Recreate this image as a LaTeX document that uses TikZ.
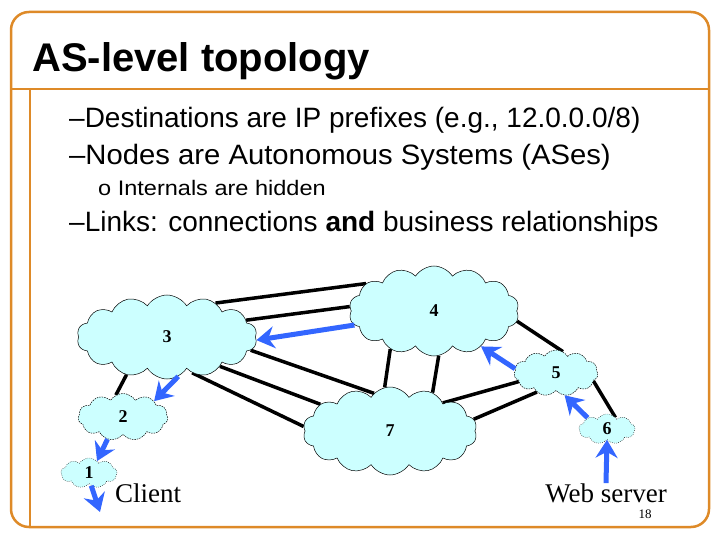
\documentclass[tikz,border=0pt]{standalone}
\usepackage{fontspec}
\setmainfont{Liberation Sans}
\newfontfamily\seriffont{Liberation Serif}
\usetikzlibrary{shapes.symbols,arrows.meta,backgrounds}
\definecolor{frameorange}{RGB}{222,138,40}
\definecolor{cloudfill}{RGB}{204,255,255}
\definecolor{relblue}{RGB}{51,102,255}
\begin{document}
\begin{tikzpicture}[x=1pt,y=-1pt,
  cloudnode/.style={cloud, cloud puffs=#1, cloud puff arc=115, draw=black, line width=0.5pt,
    fill=cloudfill, inner sep=0pt, font=\seriffont\bfseries\fontsize{18}{18}\selectfont},
  smallcloud/.style={cloudnode=#1, dash pattern=on 1.5pt off 1pt},
  dotcloud/.style={cloudnode=#1, dash pattern=on 0.6pt off 1.4pt},
  link/.style={line width=3.5pt, black},
  rel/.style={line width=5pt, relblue, -{Stealth[length=18pt,width=22pt,inset=6pt]}},
  bullet/.style={anchor=base west, inner sep=0pt, font=\fontsize{28}{28}\selectfont},
  serifbig/.style={inner sep=0pt, font=\seriffont\fontsize{27}{27}\selectfont},
  frame/.style={frameorange, line width=2.5pt}]
\useasboundingbox (0,0) rectangle (720,540);
% frame
\draw[frame, rounded corners=18pt] (11,12) rectangle (709,527);
\draw[frame] (11,89) -- (709,89);
\draw[frame] (30,89) -- (30,527);
% texts
\node[anchor=base west, inner sep=0pt, font=\bfseries\fontsize{40}{40}\selectfont] (title) at (32,72) {AS-level topology};
\node[bullet] (b1) at (69,128) {–Destinations are IP prefixes (e.g., 12.0.0.0/8)};
\node[bullet] (b2) at (69,165) {\scalebox{1.045}[1]{–Nodes are Autonomous Systems (ASes)}};
\node[anchor=base west, inner sep=0pt, font=\fontsize{21}{21}\selectfont] (sub) at (98,196) {\scalebox{1.12}[1]{o Internals are hidden}};
\node[bullet] (b3) at (69,231) {–Links: connections \textbf{and} business relationships};
% clouds
\node[cloudnode=14, minimum width=180pt, minimum height=84pt] (c3) at (167,337) {3};
\node[cloudnode=14, minimum width=170pt, minimum height=90pt] (c4) at (434,311) {4};
\node[cloudnode=14, minimum width=174pt, minimum height=88pt] (c7) at (390,431) {7};
\node[smallcloud=11, minimum width=84pt, minimum height=46pt] (c5) at (556,373) {5};
\node[smallcloud=11, minimum width=90pt, minimum height=47pt] (c2) at (123,417) {2};
\node[dotcloud=9, minimum width=56pt, minimum height=30pt] (c1) at (89,473) {1};
\node[dotcloud=9, minimum width=56pt, minimum height=30pt] (c6) at (607,429) {6};
% links
\begin{scope}[on background layer]
\draw[link] (c3.35) -- (c4.158);
\draw[link] (c3.12) -- (c4.177);
\draw[link] (c3.-9) -- (c7.113);
\draw[link] (c3.-29) -- (c7.159);
\draw[link] (c3.-55) -- (c7.177);
\draw[link] (c3.-137) -- (c2.108);
\draw[link] (c4.221) -- (c7.97);
\draw[link] (c4.276) -- (c7.42);
\draw[link] (c4.-7) -- (c5.72);
\draw[link] (c7.28) -- (c5.193);
\draw[link] (c7.8) -- (c5.225);
\draw[link] (c5.-12) -- (c6.54);
\end{scope}
% labels below
\node[serifbig, anchor=base west] (client) at (115,502) {Client};
\node[serifbig, anchor=base] (web) at (606,502) {Web server};
\node[inner sep=0pt, anchor=base, font=\seriffont\fontsize{13}{13}\selectfont] (pagenum) at (645,518) {18};
\coordinate (clienttip) at (100,512);
% relationships
\draw[rel] (c4.190) -- (c3.-2.5);
\draw[rel] (c3.-74) -- (c2.27);
\draw[rel] (c2.235) -- (c1.56);
\draw[rel] (c1.-80) -- (clienttip);
\draw[rel] (c5.174) -- (c4.-37);
\draw[rel] (c6.150) -- (c5.-69);
\draw[rel] (web.north) -- (c6.south);
\end{tikzpicture}
\end{document}
